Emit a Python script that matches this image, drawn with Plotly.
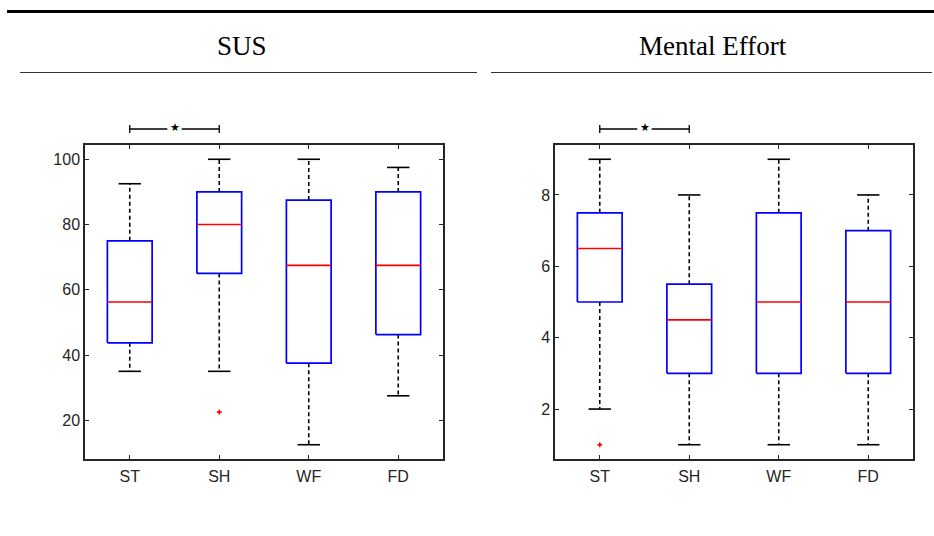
import plotly.graph_objects as go

# Condition labels shared by both panels
groups = ["ST", "SH", "WF", "FD"]

# SUS score box statistics per condition
sus_q1 = [43.75, 65, 37.5, 46.25]
sus_median = [56.25, 80, 67.5, 67.5]
sus_q3 = [75, 90, 87.5, 90]
sus_whisker_low = [35, 35, 12.5, 27.5]
sus_whisker_high = [92.5, 100, 100, 97.5]
sus_outliers = [[], [22.5], [], []]
sus_ticks = [20, 40, 60, 80, 100]

# Mental effort box statistics per condition
me_q1 = [5, 3, 3, 3]
me_median = [6.5, 4.5, 5, 5]
me_q3 = [7.5, 5.5, 7.5, 7]
me_whisker_low = [2, 1, 1, 1]
me_whisker_high = [9, 8, 9, 8]
me_outliers = [[1], [], [], []]
me_ticks = [2, 4, 6, 8]

# Significant pairwise comparisons per panel
sus_sig_pairs = [("ST", "SH")]
me_sig_pairs = [("ST", "SH")]

BOX_HALF = 0.25
CAP_HALF = 0.125
STAR_GAP = 0.08
AXIS_COLOR = "#262626"

W, H = 934, 536
fig = go.Figure()


def px_x(p):
    return p / W


def px_y(p):
    return 1 - p / H


def add_boxes(fig, xa, ya, q1, med, q3, lo, hi, outl):
    pos = list(range(1, len(groups) + 1))
    # dashed whiskers
    wx, wy = [], []
    for x, a, b, c, d in zip(pos, q1, q3, lo, hi):
        wx += [x, x, None, x, x, None]
        wy += [b, d, None, a, c, None]
    fig.add_trace(go.Scatter(x=wx, y=wy, mode="lines", xaxis=xa, yaxis=ya,
                             line=dict(color="black", width=1.6, dash="4px,3px"),
                             hoverinfo="skip", showlegend=False))
    # whisker caps
    cx, cy = [], []
    for x, c, d in zip(pos, lo, hi):
        cx += [x - CAP_HALF, x + CAP_HALF, None, x - CAP_HALF, x + CAP_HALF, None]
        cy += [d, d, None, c, c, None]
    fig.add_trace(go.Scatter(x=cx, y=cy, mode="lines", xaxis=xa, yaxis=ya,
                             line=dict(color="black", width=1.6),
                             hoverinfo="skip", showlegend=False))
    # boxes
    bx, by = [], []
    for x, a, b in zip(pos, q1, q3):
        bx += [x - BOX_HALF, x + BOX_HALF, x + BOX_HALF, x - BOX_HALF, x - BOX_HALF, None]
        by += [a, a, b, b, a, None]
    fig.add_trace(go.Scatter(x=bx, y=by, mode="lines", xaxis=xa, yaxis=ya,
                             line=dict(color="#0000ff", width=1.7),
                             hoverinfo="skip", showlegend=False))
    # medians
    mx, my = [], []
    for x, m in zip(pos, med):
        mx += [x - BOX_HALF, x + BOX_HALF, None]
        my += [m, m, None]
    fig.add_trace(go.Scatter(x=mx, y=my, mode="lines", xaxis=xa, yaxis=ya,
                             line=dict(color="#ff0000", width=1.7),
                             hoverinfo="skip", showlegend=False))
    # outliers
    ox, oy = [], []
    for x, vals in zip(pos, outl):
        for v in vals:
            ox.append(x)
            oy.append(v)
    fig.add_trace(go.Scatter(x=ox, y=oy, mode="markers", xaxis=xa, yaxis=ya,
                             marker=dict(symbol="cross", color="#ff0000", size=4,
                                         line=dict(width=0)),
                             hoverinfo="skip", showlegend=False))


def padded_range(lo, hi, outl):
    vals = list(lo) + list(hi) + [v for o in outl for v in o]
    a, b = min(vals), max(vals)
    pad = 0.05 * (b - a)
    return [a - pad, b + pad]


add_boxes(fig, "x", "y", sus_q1, sus_median, sus_q3, sus_whisker_low, sus_whisker_high, sus_outliers)
add_boxes(fig, "x2", "y2", me_q1, me_median, me_q3, me_whisker_low, me_whisker_high, me_outliers)

ydom = [px_y(459), px_y(145)]
axis_common = dict(showline=True, linecolor=AXIS_COLOR, linewidth=1.5, mirror="ticks",
                   ticks="inside", ticklen=4, tickwidth=1, tickcolor=AXIS_COLOR,
                   showgrid=False, zeroline=False,
                   tickfont=dict(family="Liberation Sans, Arial", size=16, color=AXIS_COLOR))

xt = dict(tickvals=list(range(1, len(groups) + 1)), ticktext=groups,
          range=[0.5, len(groups) + 0.5], ticklabelstandoff=2)
fig.update_layout(
    xaxis=dict(domain=[px_x(85), px_x(443)], anchor="y", **xt, **axis_common),
    yaxis=dict(domain=ydom, anchor="x", tickvals=sus_ticks,
               range=padded_range(sus_whisker_low, sus_whisker_high, sus_outliers), **axis_common),
    xaxis2=dict(domain=[px_x(555), px_x(913)], anchor="y2", **xt, **axis_common),
    yaxis2=dict(domain=ydom, anchor="x2", tickvals=me_ticks,
                range=padded_range(me_whisker_low, me_whisker_high, me_outliers), **axis_common),
)

shapes = []
annotations = []

BR_Y = 1.051
BR_TOP = 1.064
BR_BOT = 1.038


def add_sig(xref, yref, pairs):
    for a, b in pairs:
        x0 = groups.index(a) + 1
        x1 = groups.index(b) + 1
        mid = (x0 + x1) / 2
        dom = yref + " domain"
        seg = dict(color="black", width=1.3)
        shapes.append(dict(type="line", xref=xref, yref=dom, x0=x0, x1=mid - STAR_GAP,
                           y0=BR_Y, y1=BR_Y, line=seg))
        shapes.append(dict(type="line", xref=xref, yref=dom, x0=mid + STAR_GAP, x1=x1,
                           y0=BR_Y, y1=BR_Y, line=seg))
        for xe in (x0, x1):
            shapes.append(dict(type="line", xref=xref, yref=dom, x0=xe, x1=xe,
                               y0=BR_BOT, y1=BR_TOP, line=seg))
        annotations.append(dict(text="★", xref=xref, yref=dom, x=mid, y=BR_Y + 0.004,
                                xanchor="center", yanchor="middle", showarrow=False,
                                font=dict(size=11, color="black", family="DejaVu Sans")))


add_sig("x", "y", sus_sig_pairs)
add_sig("x2", "y2", me_sig_pairs)

# page header rules
shapes.append(dict(type="line", xref="paper", yref="paper", x0=px_x(7), x1=1.0,
                   y0=px_y(11.5), y1=px_y(11.5), line=dict(color="black", width=3)))
shapes.append(dict(type="line", xref="paper", yref="paper", x0=px_x(20), x1=px_x(477),
                   y0=px_y(72.5), y1=px_y(72.5), line=dict(color="#333333", width=1)))
shapes.append(dict(type="line", xref="paper", yref="paper", x0=px_x(491), x1=px_x(932),
                   y0=px_y(72.5), y1=px_y(72.5), line=dict(color="#333333", width=1)))

title_font = dict(family="Liberation Serif, serif", size=27, color="black")
annotations.append(dict(text="SUS", xref="paper", yref="paper", x=px_x(242), y=px_y(46),
                        xanchor="center", yanchor="middle", showarrow=False, font=title_font))
annotations.append(dict(text="Mental Effort", xref="paper", yref="paper", x=px_x(712.5), y=px_y(46),
                        xanchor="center", yanchor="middle", showarrow=False, font=title_font))

fig.update_layout(shapes=shapes, annotations=annotations,
                  width=W, height=H, margin=dict(l=0, r=0, t=0, b=0),
                  paper_bgcolor="white", plot_bgcolor="white", showlegend=False)

fig.write_html("out.html")
